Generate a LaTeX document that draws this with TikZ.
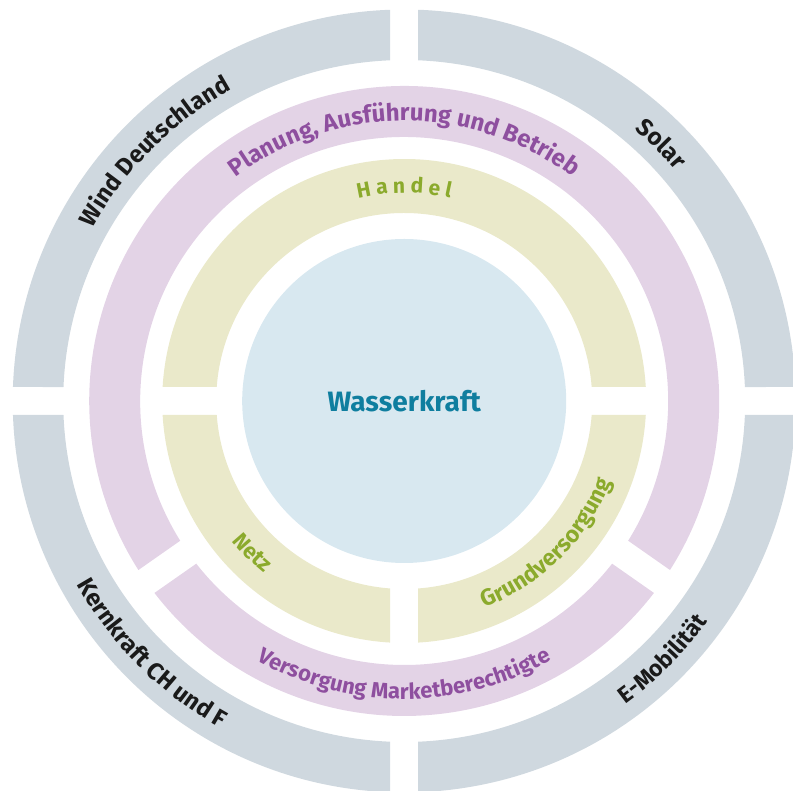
\documentclass[tikz,border=0pt]{standalone}
\usepackage{fontspec}
\setmainfont{Fira Sans}
\usetikzlibrary{decorations.text}
\definecolor{ringgrau}{HTML}{CFD8DF}
\definecolor{ringlila}{HTML}{E3D3E6}
\definecolor{ringgelb}{HTML}{EAE9CA}
\definecolor{kreisblau}{HTML}{D8E8F0}
\definecolor{textlila}{HTML}{8E4F9F}
\definecolor{textgruen}{HTML}{8BAA2C}
\definecolor{textblau}{HTML}{0F7E9F}
\definecolor{textschwarz}{HTML}{1A1A1A}

% Ringstueck: Farbe, r innen, r aussen, Startwinkel, Endwinkel, halbe Lueckenbreite
\newcommand{\ringteil}[6]{%
  \fill[#1] ({#4+asin(#6/#3)}:#3)
    arc[start angle={#4+asin(#6/#3)}, end angle={#5-asin(#6/#3)}, radius=#3]
    -- ({#5-asin(#6/#2)}:#2)
    arc[start angle={#5-asin(#6/#2)}, end angle={#4+asin(#6/#2)}, radius=#2] -- cycle;}

\tikzset{
  bogentext/.style n args={3}{decorate,
    decoration={text along path, text align=center,
      text={|\color{#1}\bfseries\fontsize{#2}{#2}\selectfont|#3}}}
}

\begin{document}
\begin{tikzpicture}[x=1pt,y=1pt]
	\useasboundingbox (-404.2,-390) rectangle (388.8,401);
	% aussen
	\ringteil{ringgrau}{341}{391.5}{90}{180}{14}
	\ringteil{ringgrau}{341}{391.5}{180}{270}{14}
	\ringteil{ringgrau}{341}{391.5}{270}{360}{14}
	\ringteil{ringgrau}{341}{391.5}{0}{90}{14}
	% mitte
	\ringteil{ringlila}{264}{315}{-35}{215}{14}
	\ringteil{ringlila}{264}{315}{215}{325}{14}
	% innen
	\ringteil{ringgelb}{188}{242}{0}{180}{14}
	\ringteil{ringgelb}{188}{242}{180}{270}{14}
	\ringteil{ringgelb}{188}{242}{270}{360}{14}
	\fill[kreisblau] (0,0) circle[radius=162];
	
	\node[anchor=base, text=textblau, font=\bfseries\fontsize{28}{28}\selectfont] (wasser) at (0,-10.5) {Wasserkraft};
	
	\path[bogentext={textschwarz}{24}{Wind Deutschland}] (175:356) arc[start angle=175, end angle=95, radius=356];
	\path[bogentext={textschwarz}{24}{Solar}] (85:356) arc[start angle=85, end angle=5, radius=356];
	\path[bogentext={textschwarz}{24}{Kernkraft CH und F}] (185:375) arc[start angle=185, end angle=265, radius=375];
	\path[bogentext={textschwarz}{23}{E-Mobilität}] (275:375) arc[start angle=275, end angle=355, radius=375];
	\path[bogentext={textlila}{24}{Planung, Ausführung und Betrieb}] (150:280) arc[start angle=150, end angle=30, radius=280];
	\path[bogentext={textlila}{22}{Versorgung Marketberechtigte}] (220:298) arc[start angle=220, end angle=320, radius=298];
	\path[bogentext={textgruen}{21}{H a n d e l}] (150:208) arc[start angle=150, end angle=30, radius=208];
	\path[bogentext={textgruen}{22}{Netz}] (185:222) arc[start angle=185, end angle=265, radius=222];
	\path[bogentext={textgruen}{23}{Grundversorgung}] (275:222) arc[start angle=275, end angle=355, radius=222];
\end{tikzpicture}
\end{document}
